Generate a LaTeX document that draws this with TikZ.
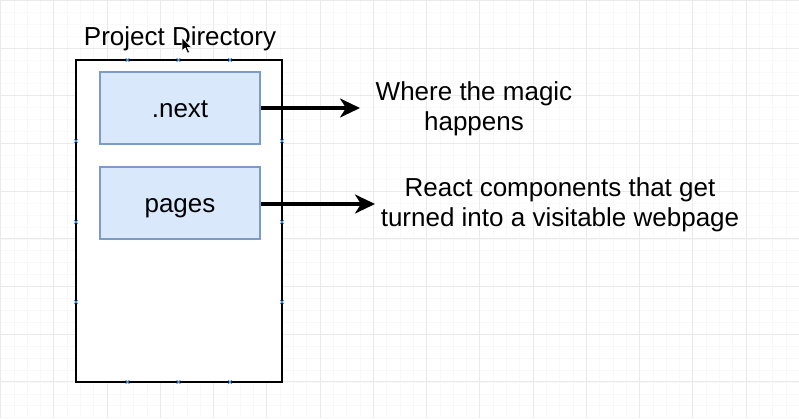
\documentclass[tikz,border=0pt]{standalone}
\usepackage{fontspec}
\setmainfont{Liberation Sans}
\usetikzlibrary{arrows.meta}

\definecolor{boxfill}{HTML}{DAE8FC}
\definecolor{boxline}{HTML}{7D9BC7}
\definecolor{gridmajor}{RGB}{234,234,234}
\definecolor{gridminor}{RGB}{248,248,248}
\definecolor{pointmark}{HTML}{4A90E2}

\tikzset{
  folderbox/.style={draw=black, line width=2.8pt, fill=white},
  itembox/.style={draw=boxline, fill=boxfill, line width=2.2pt, inner sep=0pt,
    minimum width=160pt, minimum height=72pt, text height=18.5pt, text depth=0pt},
  notetext/.style={align=center, inner sep=0pt},
  pointer/.style={line width=3.2pt, -{Stealth[length=20pt, width=19pt, inset=6pt]}},
  cpmark/.style={draw=pointmark, line width=0.9pt},
}

\begin{document}
\begin{tikzpicture}[x=1pt, y=-1pt, font=\fontsize{26}{30}\selectfont]
  \useasboundingbox[fill=white] (0,0) rectangle (799,418);

  % background grid: faint minor lines, slightly darker major lines
  \foreach \i in {0,...,60} {
    \draw[gridminor, line width=0.6pt] ({0.5+13.3125*\i},0) -- ++(0,418);
  }
  \foreach \j in {0,...,36} {
    \draw[gridminor, line width=0.6pt] (0,{0.3+11.925*\j}) -- ++(799,0);
  }
  \foreach \i in {0,...,15} {
    \draw[gridmajor, line width=0.9pt] ({0.5+53.25*\i},0) -- ++(0,418);
  }
  \foreach \j in {0,...,9} {
    \draw[gridmajor, line width=0.9pt] (0,{0.3+47.7*\j}) -- ++(799,0);
  }

  % project folder
  \node[anchor=base] (title) at (180,45) {Project Directory};
  \draw[folderbox] (76,60) rectangle (282,382);
  \coordinate (folderNW) at (76,60);
  \coordinate (folderSE) at (282,382);

  % connection point marks along the folder outline
  \foreach \x in {127.5,178.5,230} {
    \draw[cpmark] (\x-1.8,58.2) -- (\x+1.8,61.8) (\x-1.8,61.8) -- (\x+1.8,58.2);
    \draw[cpmark] (\x-1.8,380.2) -- (\x+1.8,383.8) (\x-1.8,383.8) -- (\x+1.8,380.2);
  }
  \foreach \y in {141,222,302} {
    \draw[cpmark] (74.2,\y-1.8) -- (77.8,\y+1.8) (74.2,\y+1.8) -- (77.8,\y-1.8);
    \draw[cpmark] (280.2,\y-1.8) -- (283.8,\y+1.8) (280.2,\y+1.8) -- (283.8,\y-1.8);
  }

  % folder contents
  \node[itembox] (next) at (180,108) {.next};
  \node[itembox] (pages) at (180,203) {pages};

  % descriptions
  \coordinate (nextTip) at (360,108);
  \coordinate (pagesTip) at (375,204);
  \node[notetext] (magic) at (474,109) {Where the magic\\happens};
  \node[notetext] (react) at (560,205) {React components that get\\turned into a visitable webpage};

  \draw[pointer] (next.east) -- (nextTip);
  \draw[pointer] (pages.east |- pagesTip) -- (pagesTip);

  % mouse pointer
  \filldraw[fill=black, draw=white, line width=0.6pt, line join=round]
    (182,37.5) -- (182,51) -- (185.2,48) -- (187.6,53.2) -- (189.6,52.3)
    -- (187.3,47.3) -- (191.5,47.3) -- cycle;
\end{tikzpicture}
\end{document}
